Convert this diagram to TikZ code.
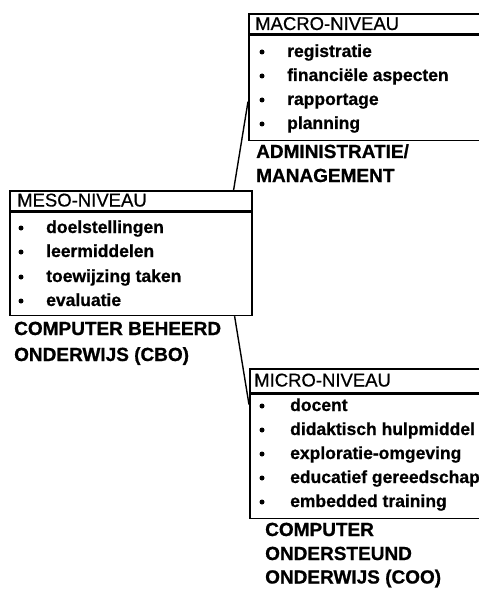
\documentclass[tikz,border=0pt]{standalone}
\usepackage{fontspec}
\setmainfont{Liberation Sans}
\newfontfamily\hdrfont[FakeBold=0.6]{Liberation Sans}
\newfontfamily\itmfont[FakeBold=0.8]{Liberation Sans Bold}
\newfontfamily\lblfont[FakeBold=0.8]{Liberation Sans Bold}
\usetikzlibrary{calc}
\tikzset{
  box/.style={draw, line width=1.6bp, anchor=north west, inner sep=0pt},
  hdr/.style={anchor=base west, inner sep=0pt, font=\hdrfont\fontsize{18.5bp}{18.5bp}\selectfont},
  itm/.style={anchor=base west, inner sep=0pt, font=\itmfont\fontsize{17.5bp}{17.5bp}\selectfont},
  bul/.style={circle, fill, inner sep=0pt, minimum size=5bp},
  lbl/.style={anchor=base west, inner sep=0pt, font=\lblfont\fontsize{19bp}{19bp}\selectfont},
  conn/.style={line width=1.4bp},
}
\begin{document}
\begin{tikzpicture}[x=1bp, y=-1bp]
\useasboundingbox (0,0) rectangle (479,589);
\clip (0,0) rectangle (479,589);
% MACRO
\node[box, minimum width=260bp, minimum height=20bp] (macroH) at (248,13) {};
\node[box, minimum width=260bp, minimum height=105bp] (macroB) at (macroH.south west) {};
\node[hdr] (macroT) at (255,30) {MACRO-NIVEAU};
\node[bul] (mab1) at (262,52) {}; \node[itm] (mai1) at (287,57) {registratie};
\node[bul] (mab2) at (262,76) {}; \node[itm] (mai2) at (287,81) {financiële aspecten};
\node[bul] (mab3) at (262,100) {}; \node[itm] (mai3) at (287,105) {rapportage};
\node[bul] (mab4) at (262,124) {}; \node[itm] (mai4) at (287,129) {planning};
\node[lbl] (mal1) at (256,158) {ADMINISTRATIE/};
\node[lbl] (mal2) at (256,182) {MANAGEMENT};
% MESO
\node[box, minimum width=242bp, minimum height=20bp] (mesoH) at (9,190) {};
\node[box, minimum width=242bp, minimum height=103bp] (mesoB) at (mesoH.south west) {};
\node[hdr] (mesoT) at (17,206.5) {MESO-NIVEAU};
\node[bul] (meb1) at (21,228) {}; \node[itm] (mei1) at (46,233) {doelstellingen};
\node[bul] (meb2) at (21,252) {}; \node[itm] (mei2) at (46,257) {leermiddelen};
\node[bul] (meb3) at (21,277) {}; \node[itm] (mei3) at (46,282) {toewijzing taken};
\node[bul] (meb4) at (21,301) {}; \node[itm] (mei4) at (46,306) {evaluatie};
\node[lbl] (mel1) at (14,335) {COMPUTER BEHEERD};
\node[lbl] (mel2) at (14,361) {ONDERWIJS (CBO)};
% MICRO
\node[box, minimum width=260bp, minimum height=24bp] (microH) at (249,368) {};
\node[box, minimum width=260bp, minimum height=124bp] (microB) at (microH.south west) {};
\node[hdr] (microT) at (254,386.5) {MICRO-NIVEAU};
\node[bul] (mib1) at (262,406) {}; \node[itm] (mii1) at (290,411) {docent};
\node[bul] (mib2) at (262,430) {}; \node[itm] (mii2) at (290,435) {didaktisch hulpmiddel};
\node[bul] (mib3) at (262,454) {}; \node[itm] (mii3) at (290,459) {exploratie-omgeving};
\node[bul] (mib4) at (262,478) {}; \node[itm] (mii4) at (290,483) {educatief gereedschap};
\node[bul] (mib5) at (262,502) {}; \node[itm] (mii5) at (290,507) {embedded training};
\node[lbl] (mil1) at (265,536) {COMPUTER};
\node[lbl] (mil2) at (265,560) {ONDERSTEUND};
\node[lbl] (mil3) at (265,583.5) {ONDERWIJS (COO)};
% connectors
\draw[conn] ($(mesoH.north east)+(-19,0)$) -- ($(macroB.north west)+(0,67)$);
\draw[conn] ($(mesoB.south east)+(-18,0)$) -- ($(microB.north west)+(0,11)$);
\end{tikzpicture}
\end{document}
